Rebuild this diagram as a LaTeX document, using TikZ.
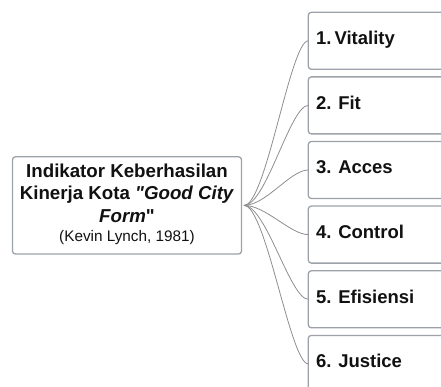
\documentclass[tikz,border=0pt]{standalone}
\usepackage{fontspec}
\setmainfont{Liberation Sans}
\newfontfamily\qfont{Liberation Sans}
\definecolor{boxline}{HTML}{9DA2AA}
\definecolor{connline}{HTML}{8E8E8E}
\definecolor{txt}{HTML}{111111}
\tikzset{
  box/.style={draw=boxline, line width=1.3pt, rounded corners=3pt, fill=white, inner sep=0pt, outer sep=0pt},
  lbl/.style={inner sep=0pt, outer sep=0pt, text=txt, font=\bfseries\fontsize{18.5}{21}\selectfont},
  rlbl/.style={inner sep=0pt, outer sep=0pt, text=txt, font=\bfseries\fontsize{18.7}{21}\selectfont},
  sub/.style={inner sep=0pt, outer sep=0pt, text=txt, font=\fontsize{15.3}{18}\selectfont},
  conn/.style={draw=connline, line width=0.8pt}
}
\begin{document}
\begin{tikzpicture}[x=1pt,y=-1pt]
\useasboundingbox (0,0) rectangle (441,387);
\clip (0,0) rectangle (441,387);
% root box
\node[box, minimum width=229pt, minimum height=97.3pt] (root) at (127,205.4) {};
\node[rlbl, anchor=base] (r1) at (127,177.3) {Indikator Keberhasilan};
\node[rlbl, anchor=base] (r2) at (127,200) {Kinerja Kota \textit{{\qfont"}Good City}};
\node[rlbl, anchor=base] (r3) at (127,222.7) {\textit{Form\/}{\qfont"}};
\node[sub, anchor=base] (r4) at (127,241.7) {(Kevin Lynch, 1981)};
\coordinate (hub) at ([xshift=2.5pt]root.east);
% right boxes
\foreach \i/\cy/\t in {1/40.8/{1.\,Vitality},2/105.4/{2. Fit},3/170.0/{3. Acces},4/234.6/{4. Control},5/299.3/{5. Efisiensi},6/363.9/{6. Justice}}{
  \node[box, minimum width=170pt, minimum height=57pt] (b\i) at (393.3,\cy) {};
  \node[lbl, anchor=base west] (l\i) at (316,\cy+4) {\t};
  \draw[conn] (hub) .. controls +(22,0) and +(-18,0) .. (b\i.west);
}
\end{tikzpicture}
\end{document}
